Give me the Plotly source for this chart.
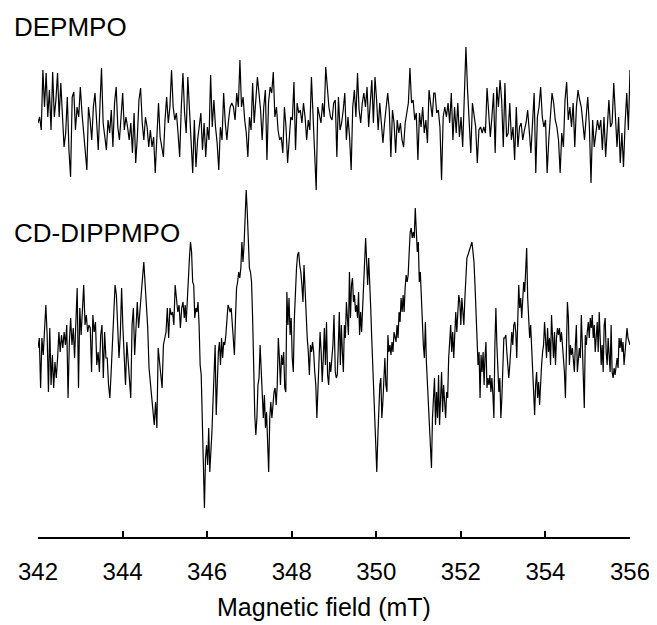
import numpy as np
import plotly.graph_objects as go

# ---------------- data ----------------
# Field axis
field_min, field_max = 342.0, 356.0
field_ticks = [342, 344, 346, 348, 350, 352, 354, 356]
field_tick_labels = ["342", "344", "346", "348", "350", "352", "354", "356"]

# Trace labels
label_top = "DEPMPO"
label_bottom = "CD-DIPPMPO"
x_title = "Magnetic field (mT)"

# DEPMPO spectrum (arbitrary intensity units), digitised in three field segments
depmpo_segments = [(342.0, 346.66), (346.70, 351.36), (351.39, 356.0)]
depmpo_seg1 = [-1, 5, -8, 52, 15, 49, 5, 32, -8, 50, 5, 22, 49, 5, 39, -1, -25, -11, 25, -28, -55, 25, 30, -8, 15, 5,
               35, 9, -8, -28, -48, 15, 2, -18, 15, 29, 2, -28, 15, 54, -1, -18, -28, 2, -11, 12, -25, 19, 35, -5, -18,
               5, 29, -8, 5, -5, -18, -1, -31, 9, -41, -15, 22, 34, -1, -18, 5, -5, -25, -8, -25, -15, -51, -15, 19, -15,
               -28, -35, 2, 25, -1, 15, 52, 15, 2, 9, -11, -35, 15, 49, 9, -11, 45, 9, -18, -51, 2, -45, -18, -5, 9, -28,
               -1, -35, -5, -18, 47, -5, 22, -5, -21, -48, -5, -18, 29, -1, -18, 2, 15, 19, 15, 2]
depmpo_seg2 = [29, 15, 62, 15, 25, 2, -11, -35, 5, -8, 39, -1, 19, 45, 29, 12, -18, 15, 32, -38, 19, 35, 29, 50, 5, 15,
               -8, -18, -15, -31, 15, -5, -41, -15, 5, 2, 40, -28, 19, 9, 12, -1, 19, 5, -18, 2, -8, 45, 5, -18, -68, 15,
               5, -1, 19, 5, 55, 29, 15, 5, 2, 19, 22, -35, 25, -8, -1, 12, 29, -18, 5, -15, -48, 15, 32, 5, 49, 12, -1,
               19, 29, 15, 35, -5, 15, 42, -1, 45, 22, -8, 19, 2, -21, -1, 15, 29, 12, -35, 12, -1, -31, 2, -11, -1, -18,
               -25, -1, 12, 19, 54, 19, 22, 2, 9, -38, 9, -5, 15, -11, 2, -21, 32, 15, 5, 29]
depmpo_seg3 = [29, 9, 12, -5, -58, 5, 15, 5, 19, -1, 29, -18, 15, -11, 19, -15, 5, -25, 29, 75, 32, -5, -31, 19, 5, -5,
               -41, -8, -5, -11, -5, -11, 34, 5, -15, 5, 29, -31, 35, 15, 42, 22, -25, 39, -15, -11, 19, -18, -5, -38, 15,
               -25, -5, -1, -18, -8, -1, 12, -15, -31, -1, 29, -51, 5, 15, 35, 5, -5, 2, -51, -18, 5, 29, 19, 2, -5, -18,
               -51, -11, -25, 22, 40, 2, 15, -5, 19, -25, 15, 32, 22, 15, -1, -18, 5, 25, -5, -61, 2, -25, -11, 2, -8, 2,
               -28, 5, -35, -5, 22, -5, -1, 39, 5, -25, 5, -41, -11, -45, -1, 29, -8, 52]

# CD-DIPPMPO spectrum (arbitrary intensity units), digitised in four field segments
cd_segments = [(342.0, 345.46), (345.48, 349.0), (349.03, 352.55), (352.57, 356.0)]
cd_seg1 = [-3, 7, -43, 7, -10, 20, 40, 10, -47, 17, -40, -10, -43, -17, -33, -13, 13, -7, 10, -3, 13, 0, 20, -53, 3, 27,
           0, 17, -13, 23, 57, -43, 37, 10, 33, 60, 20, 30, 13, 20, 17, -27, 30, 13, 23, -20, -7, -27, 10, 20, -33, 13,
           -13, -13, -40, -53, -27, 3, 20, 60, 50, 10, -13, 10, 57, 17, -23, -40, 3, -13, -37, -53, 20, 37, -10, 20, 43,
           17, 37, 53, 67, 83, 60, 37, 17, -23, -37, -57, -73, -80, -57, -83, -3, -17, -37, -43, 0, 7, 13, 37, 7, 37, 30,
           33, 20, 60, 47, 33, 40, 17, 37, 43, 27]
cd_seg2 = [40, 23, 50, 70, 87, 103, 93, 63, 60, 27, 37, 33, 43, 20, -20, -30, -73, -107, -163, -113, -100, -120, -83,
           -127, -110, -87, -57, -27, 0, -70, -23, -7, 3, -20, 7, -13, 3, 0, 10, 30, 40, 37, 33, 37, 20, 10, -10, 27, 57,
           63, 73, 67, 77, 103, 83, 100, 140, 155, 133, 110, 77, 73, 63, 27, -27, -70, -90, -73, -40, -33, 0, -27, -47,
           -73, -50, -83, -67, -93, -127, -73, -57, -73, -53, -47, -43, -60, -40, 7, -13, -40, -10, -20, -7, -43, -47, 53,
           20, 47, 10, 27, -13, -27, 27, 57, 77, 90, 93, 80, 73, 60, 43, 80, 53, 27, 7, -7, -30, 0, -7, 3, -7, -27, -40,
           -73, -47, -27, 13, -7, -37, -13, 17, -20, 23, -30, -40, -17, -27, -13, 0, 30]
cd_seg3 = [-27, -33, -30, 0, 33, -20, 20, -7, -27, 20, 7, 43, 27, 10, 73, 27, 60, 67, 43, 50, 33, 40, 27, 53, 10, 33, 13,
           40, 60, 77, 107, 83, 60, 87, 67, 37, 7, -27, -40, -73, -100, -127, -93, -60, -40, -33, -73, -57, -33, -13, -40,
           -47, 10, -7, 0, -10, 3, -7, 13, 7, 3, 20, 7, 33, 23, 47, 33, 50, 33, 57, 70, 63, 70, 93, 113, 117, 107, 113,
           107, 137, 103, 93, 103, 63, 73, 43, 33, 0, -13, 23, -17, -40, -53, -73, -93, -123, -73, -53, -33, -80, -47,
           -73, -30, -80, -40, -27, -67, -40, -57, -73, -47, -53, -13, 0, 20, -7, 13, -13, 17, 33, 13, 37, 50, 43, 20, 47,
           33, 20, 47, 73, 87, 90, 93, 97, 100, 103, 93, 83, 60, 27, 0, -20, -7, -53, -10, -27, -7, -40]
cd_seg4 = [-13, 3, -43, -33, -40, -30, -47, -33, -50, -73, 0, 37, 0, -27, -47, -33, -73, -53, -10, 7, 7, 10, -7, -20, -33,
           -20, 0, 13, 0, 20, 23, 13, -13, 37, 60, 37, 47, 27, 50, 63, 53, 77, 97, 47, 20, 7, 20, 0, -20, -47, -70, -40,
           -27, -53, -37, -60, -33, -20, -7, 0, 23, 3, -13, 17, -7, 7, -20, 30, 0, -13, 13, -20, 7, 17, 10, 17, 3, 13, 0,
           -13, -27, -53, 20, 43, 27, -20, 0, -10, -3, -13, -27, 0, 20, -27, -13, -3, -13, 30, 0, -27, -63, 10, 0, 13,
           23, 7, 27, 17, 30, 7, 20, -7, 13, 23, -7, 33, 7, -20, 0, -27, 20, 27, -7, -20, 7, -13, -27, 20, -27, -33, -23,
           -30, -17, -13, -23, 7, -3, 7, -7, 3, -20, -7, 7, 17, 7, 3, 0]

# vertical stacking offsets of the two spectra (same arbitrary units)
offset_top = 415
offset_bottom = 192
y_range = [0, 529]


def assemble(segments, values_list):
    xs, ys = [], []
    for (a, b), vals in zip(segments, values_list):
        xs.extend(np.linspace(a, b, len(vals)).tolist())
        ys.extend(vals)
    return np.array(xs), np.array(ys, dtype=float)


x_top, y_top = assemble(depmpo_segments, [depmpo_seg1, depmpo_seg2, depmpo_seg3])
x_bot, y_bot = assemble(cd_segments, [cd_seg1, cd_seg2, cd_seg3, cd_seg4])

# ---------------- figure ----------------
# the page body adds an 8 px margin, so the figure is 8 px smaller than the window
BODY = 8
W, H = 657 - BODY, 625 - BODY
ML, MR, MT, MB = 38 - BODY, 27, 0, 88
FONT = "Liberation Sans, Arial, Helvetica, sans-serif"

fig = go.Figure()
fig.add_trace(go.Scatter(x=x_top, y=y_top + offset_top, mode="lines",
                         line=dict(color="black", width=1.2), showlegend=False, hoverinfo="skip"))
fig.add_trace(go.Scatter(x=x_bot, y=y_bot + offset_bottom, mode="lines",
                         line=dict(color="black", width=1.2), showlegend=False, hoverinfo="skip"))

plot_w = W - ML - MR
plot_h = H - MT - MB


def px_to_paper_x(px):
    return (px - BODY - ML) / plot_w


def px_to_paper_y(py):
    return (H - MB - (py - BODY)) / plot_h


fig.add_annotation(text=label_top, x=px_to_paper_x(12), y=px_to_paper_y(27), xref="paper", yref="paper",
                   xanchor="left", yanchor="middle", showarrow=False,
                   font=dict(family=FONT, size=26, color="black"))
fig.add_annotation(text=label_bottom, x=px_to_paper_x(12), y=px_to_paper_y(233), xref="paper", yref="paper",
                   xanchor="left", yanchor="middle", showarrow=False,
                   font=dict(family=FONT, size=26, color="black"))
fig.add_annotation(text=x_title, x=px_to_paper_x(324), y=px_to_paper_y(607), xref="paper", yref="paper",
                   xanchor="center", yanchor="middle", showarrow=False,
                   font=dict(family=FONT, size=25, color="black"))

fig.update_layout(
    width=W, height=H,
    margin=dict(l=ML, r=MR, t=MT, b=MB, pad=0),
    paper_bgcolor="white", plot_bgcolor="white",
    font=dict(family=FONT, color="black"),
    xaxis=dict(range=[field_min, field_max], tickmode="array", tickvals=field_ticks, ticktext=field_tick_labels,
               ticks="inside", ticklen=6, tickwidth=1.5, tickcolor="black",
               showline=True, linecolor="black", linewidth=2, showgrid=False, zeroline=False,
               tickfont=dict(family=FONT, size=24, color="black"), ticklabelstandoff=12,
               fixedrange=True),
    yaxis=dict(range=y_range, visible=False, fixedrange=True),
)

fig.write_html("out.html")
